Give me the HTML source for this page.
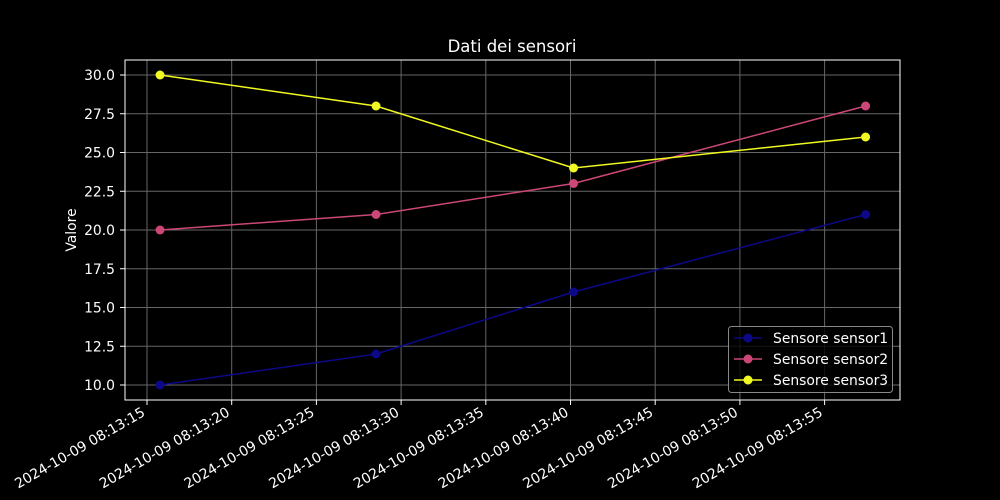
<!DOCTYPE html>
<html><head><meta charset="utf-8"><style>
html,body{margin:0;padding:0;background:#000;}
svg{display:block;font-family:"DejaVu Sans","Liberation Sans",sans-serif;}
</style></head><body>
<svg id="chart" width="1000" height="500" viewBox="0 0 1000 500">
<rect width="1000" height="500" fill="#000"/>
<text x="512" y="52" fill="#fff" font-size="16.5" text-anchor="middle">Dati dei sensori</text>
<text transform="translate(76,230) rotate(-90)" fill="#fff" font-size="13.9" text-anchor="middle">Valore</text>
<g id="grid"></g>
<g id="series"></g>
<rect x="125" y="60" width="775" height="340" fill="none" stroke="#fff" stroke-width="1"/>
<g id="axes"></g>
<g id="legend"></g>
</svg>
<script>
// time in seconds after 08:13:00
const times = [15.77, 28.52, 40.18, 57.42];
const sensorNames = ["Sensore sensor1", "Sensore sensor2", "Sensore sensor3"];
const sensor1 = [10, 12, 16, 21];
const sensor2 = [20, 21, 23, 28];
const sensor3 = [30, 28, 24, 26];
const xTicks = [15, 20, 25, 30, 35, 40, 45, 50, 55];
const yTicks = [10, 12.5, 15, 17.5, 20, 22.5, 25, 27.5, 30];
const colors = ["#0d0887", "#cc4778", "#f0f921"];

const NS = "http://www.w3.org/2000/svg";
const x = s => 147 + (s - 15) * 16.94;
const y = v => 385 - (v - 10) * 15.5;
function mk(tag, attrs, parent) {
  const e = document.createElementNS(NS, tag);
  for (const k in attrs) e.setAttribute(k, attrs[k]);
  parent.appendChild(e);
  return e;
}
const grid = document.getElementById('grid');
const axes = document.getElementById('axes');
xTicks.forEach(t => {
  const gl = mk('line', {x1: x(t), x2: x(t), y1: 60, y2: 400, stroke: '#666', 'stroke-width': 1}, grid);
  
  
  const tk = mk('line', {x1: x(t), x2: x(t), y1: 400, y2: 405, stroke: '#fff'}, axes);
  
  
  const lb = mk('text', {x: 0, y: 0, fill: '#fff', 'font-size': 13.9, 'text-anchor': 'end',
    transform: 'translate(' + (x(t) - 1) + ',415) rotate(-30)'}, axes);
  lb.textContent = '2024-10-09 08:13:' + String(t).padStart(2, '0');
  
  
});
yTicks.forEach(t => {
  const gl = mk('line', {x1: 125, x2: 900, y1: y(t), y2: y(t), stroke: '#666', 'stroke-width': 1}, grid);
  
  
  const tk = mk('line', {x1: 120, x2: 125, y1: y(t), y2: y(t), stroke: '#fff'}, axes);
  
  
  const lb = mk('text', {x: 115, y: y(t) + 5, fill: '#fff', 'font-size': 13.9, 'text-anchor': 'end'}, axes);
  lb.textContent = t.toFixed(1);
  
  
});
const ser = document.getElementById('series');
[sensor1, sensor2, sensor3].forEach((vals, i) => {
  const g = mk('g', {}, ser);
  
  
  const pl = mk('polyline', {points: vals.map((v, j) => x(times[j]) + ',' + y(v)).join(' '),
    fill: 'none', stroke: colors[i], 'stroke-width': 1.5}, g);
  
  
  vals.forEach((v, j) => {
    const c = mk('circle', {cx: x(times[j]), cy: y(v), r: 4.5, fill: colors[i]}, g);
    
    
  });
});
const leg = document.getElementById('legend');
const box = mk('rect', {x: 728.5, y: 326.5, width: 164, height: 66, rx: 3, fill: '#000', 'fill-opacity': 0.8, stroke: '#888'}, leg);


sensorNames.forEach((n, i) => {
  const yy = 338 + i * 21;
  const g = mk('g', {}, leg);
  
  
  const l = mk('line', {x1: 734, x2: 762, y1: yy, y2: yy, stroke: colors[i], 'stroke-width': 1.5}, g);
  
  
  const c = mk('circle', {cx: 748, cy: yy, r: 4.5, fill: colors[i]}, g);
  
  
  const t = mk('text', {x: 773, y: yy + 5, fill: '#fff', 'font-size': 13.9}, g);
  t.textContent = n;
  
  
});
</script>
</body></html>
